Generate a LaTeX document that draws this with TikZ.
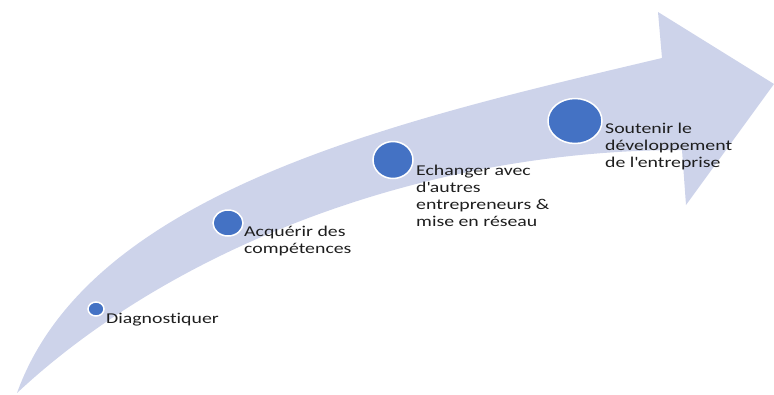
\documentclass[tikz,border=0pt]{standalone}
\usepackage{fontspec}
\setmainfont{Carlito}[FakeStretch=1.32, Ligatures={NoCommon}]
\usetikzlibrary{shapes.geometric}
\definecolor{fleche}{HTML}{CDD3EA}
\definecolor{bleu}{HTML}{4472C4}
\definecolor{texte}{HTML}{1E1E1E}
\begin{document}
\begin{tikzpicture}[x=1pt, y=-1pt,
  dot/.style={ellipse, fill=bleu, draw=white, line width=1.5pt, inner sep=0pt},
  txt/.style={inner sep=0pt, align=left, text=texte, font=\fontsize{15}{16.8}\selectfont}]

\useasboundingbox (0,0) rectangle (774,394);

\fill[fleche] (17,393) .. controls (90,190) and (400,120) .. (662,58)
  -- (658,12) -- (774,84) -- (686,205) -- (682,150)
  .. controls (420,150) and (170,250) .. cycle;

\node[dot, minimum width=16pt, minimum height=14pt] (c1) at (96,309) {};
\node[dot, minimum width=30pt, minimum height=26pt] (c2) at (228,223) {};
\node[dot, minimum width=40pt, minimum height=37pt] (c3) at (393,160) {};
\node[dot, minimum width=54pt, minimum height=45pt] (c4) at (575,121) {};

\node[txt, anchor=base west] (t1) at (106,323) {Diagnostiquer};
\node[txt, anchor=north west] (t2) at (244,226) {Acquérir des\\compétences};
\node[txt, anchor=north west] (t3) at (416,165) {Echanger avec\\d\textquotesingle autres\\entrepreneurs \&\\mise en réseau};
\node[txt, anchor=north west] (t4) at (605,123) {Soutenir le\\développement\\de l\textquotesingle entreprise};

\end{tikzpicture}
\end{document}
